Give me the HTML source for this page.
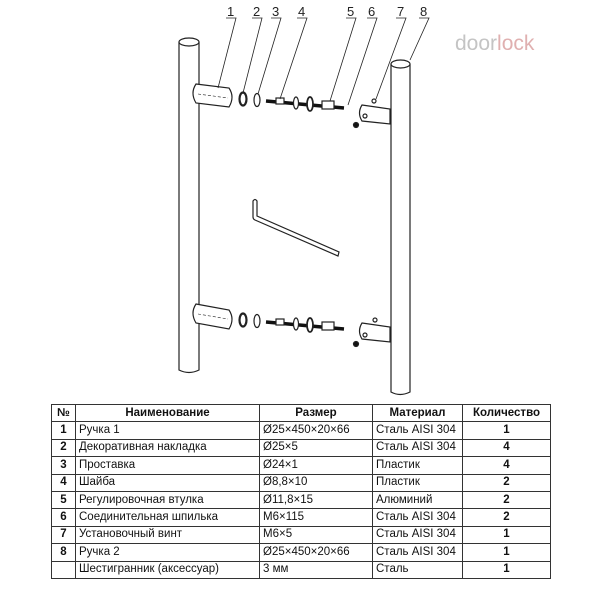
<!DOCTYPE html>
<html><head><meta charset="utf-8"><style>
body{margin:0;background:#fff;width:600px;height:600px;position:relative;overflow:hidden;font-family:"Liberation Sans",sans-serif}
svg{position:absolute;left:0;top:0}
table{position:absolute;left:51px;top:404px;border-collapse:collapse;font-size:11.5px;color:#111}
td,th{border:1px solid #333;padding:0 3px;height:16.4px;line-height:15px;white-space:nowrap}
th{font-weight:bold;text-align:center}
td.n{text-align:center;font-weight:bold}
td.q{text-align:center;font-weight:bold}
</style></head><body>
<svg width="600" height="400" viewBox="0 0 600 400" fill="none" stroke="#222" stroke-width="1.2">
<text x="455" y="50" font-family="Liberation Sans" font-size="21" fill="#c4c4c4" stroke="none">door<tspan fill="#e0b0b0">lock</tspan></text>
<!-- left pole -->
<path d="M179 42 V370 Q189 375 199 370 V42" fill="#fff"/>
<ellipse cx="189" cy="42" rx="10" ry="4" fill="#fff"/>
<!-- right pole -->
<path d="M391 64 V392 Q400 397 410 392 V64" fill="#fff"/>
<ellipse cx="400.5" cy="64" rx="9.5" ry="4" fill="#fff"/>
<!-- upper assembly -->
<g>
<path d="M196 84 L229 88 Q235 97 229 107 L196 103 Q190 93 196 84Z" fill="#fff"/>
<line x1="198" y1="94" x2="228" y2="98" stroke-dasharray="3 2" stroke-width="0.6"/>
<ellipse cx="243" cy="99" rx="3.5" ry="6.5" stroke-width="2.2"/>
<ellipse cx="257" cy="100" rx="3" ry="6.5"/>
<line x1="266" y1="101" x2="344" y2="108" stroke-width="3.5" stroke="#111"/>
<rect x="276" y="98" width="8" height="6" fill="#fff"/>
<ellipse cx="296" cy="103" rx="2.5" ry="6" fill="#fff"/>
<ellipse cx="310" cy="104" rx="3" ry="7" fill="#fff" stroke-width="1.8"/>
<rect x="322" y="101" width="12" height="8" fill="#fff"/>
<path d="M362 105 L390 109 V124 L362 121 Q357 113 362 105Z" fill="#fff"/>
<circle cx="365" cy="116" r="2"/><circle cx="374" cy="101" r="2"/>
<circle cx="356" cy="125" r="2.5" fill="#111"/>
</g>
<!-- lower assembly -->
<g>
<path d="M196 304 L229 310 Q235 319 229 329 L196 323 Q190 313 196 304Z" fill="#fff"/>
<line x1="198" y1="314" x2="228" y2="319" stroke-dasharray="3 2" stroke-width="0.6"/>
<ellipse cx="243" cy="320" rx="3.5" ry="6.5" stroke-width="2.2"/>
<ellipse cx="257" cy="321" rx="3" ry="6.5"/>
<line x1="266" y1="322" x2="344" y2="329" stroke-width="3.5" stroke="#111"/>
<rect x="276" y="319" width="8" height="6" fill="#fff"/>
<ellipse cx="296" cy="324" rx="2.5" ry="6" fill="#fff"/>
<ellipse cx="310" cy="325" rx="3" ry="7" fill="#fff" stroke-width="1.8"/>
<rect x="322" y="322" width="12" height="8" fill="#fff"/>
<path d="M362 323 L390 327 V342 L362 339 Q357 331 362 323Z" fill="#fff"/>
<circle cx="365" cy="335" r="2"/><circle cx="375" cy="320" r="2"/>
<circle cx="356" cy="344" r="2.5" fill="#111"/>
</g>
<!-- hex key -->
<path d="M253 201 Q255 198 257 201 V216 L339 252 L338 256 L255 220 Q253 219 253 217 Z" fill="#fff" stroke-width="1.2"/>
<!-- leaders -->
<g stroke-width="0.8">
<path d="M226 18 H236 L218 88"/>
<path d="M252 18 H262 L243 93"/>
<path d="M271 18 H281 L258 94"/>
<path d="M297 18 H307 L280 99"/>
<path d="M346 18 H356 L330 101"/>
<path d="M367 18 H377 L348 105"/>
<path d="M396 18 H406 L376 99"/>
<path d="M419 18 H429 L410 60"/>
</g>
<g font-family="Liberation Sans" font-size="13" fill="#222" stroke="none">
<text x="227" y="16">1</text><text x="253" y="16">2</text><text x="272" y="16">3</text><text x="298" y="16">4</text>
<text x="347" y="16">5</text><text x="368" y="16">6</text><text x="397" y="16">7</text><text x="420" y="16">8</text>
</g>
</svg>
<table>
<tr><th style="width:17px">№</th><th style="width:177px">Наименование</th><th style="width:106px">Размер</th><th style="width:83px">Материал</th><th style="width:81px">Количество</th></tr>
<tr><td class="n">1</td><td>Ручка 1</td><td>Ø25×450×20×66</td><td>Сталь AISI 304</td><td class="q">1</td></tr>
<tr><td class="n">2</td><td>Декоративная накладка</td><td>Ø25×5</td><td>Сталь AISI 304</td><td class="q">4</td></tr>
<tr><td class="n">3</td><td>Проставка</td><td>Ø24×1</td><td>Пластик</td><td class="q">4</td></tr>
<tr><td class="n">4</td><td>Шайба</td><td>Ø8,8×10</td><td>Пластик</td><td class="q">2</td></tr>
<tr><td class="n">5</td><td>Регулировочная втулка</td><td>Ø11,8×15</td><td>Алюминий</td><td class="q">2</td></tr>
<tr><td class="n">6</td><td>Соединительная шпилька</td><td>M6×115</td><td>Сталь AISI 304</td><td class="q">2</td></tr>
<tr><td class="n">7</td><td>Установочный винт</td><td>M6×5</td><td>Сталь AISI 304</td><td class="q">1</td></tr>
<tr><td class="n">8</td><td>Ручка 2</td><td>Ø25×450×20×66</td><td>Сталь AISI 304</td><td class="q">1</td></tr>
<tr><td class="n"></td><td>Шестигранник (аксессуар)</td><td>3 мм</td><td>Сталь</td><td class="q">1</td></tr>
</table>
</body></html>
